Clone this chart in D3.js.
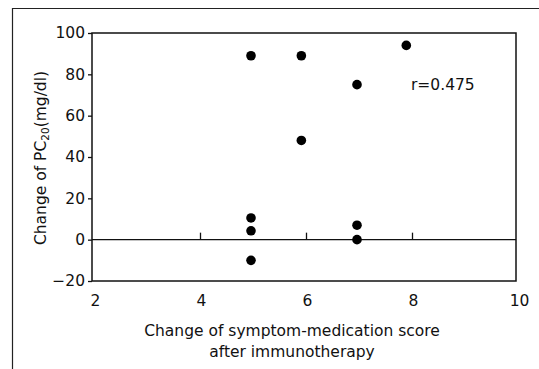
<!DOCTYPE html>
<html><head><meta charset="utf-8">
<script src="https://cdn.jsdelivr.net/npm/d3@7"></script>
<style>body{margin:0;background:#fff}svg{display:block}</style>
</head><body>
<svg id="c" width="539" height="369"></svg>
<script>
const scoreChange = [5, 5.95, 7.93, 7, 5.95, 5, 5, 5, 7, 7];
const pc20Change  = [89, 89, 94, 75, 48, 10.5, 4.3, -10, 7, 0];
const xTicks = [2, 4, 6, 8, 10];
const yTicks = [100, 80, 60, 40, 20, 0, -20];
const xTitle = ["Change of symptom-medication score", "after immunotherapy"];
const yTitle = "Change of PC";
const annotation = "r=0.475";

const svg = d3.select("#c");
const font = "DejaVu Sans";
const fs = 15.5;
const ink = "#111";
const L = 92, R = 516, T = 33, B = 281;
const x = d3.scaleLinear().domain([2, 10]).range([L, R]);
const y = d3.scaleLinear().domain([-20, 100]).range([B, T]);

// outer frame
svg.append("path").attr("d", "M12.5,369 V8.5 H539").attr("fill", "none")
  .attr("stroke", "#222").attr("stroke-width", 1.2);

// plot frame
svg.append("rect").attr("x", L).attr("y", T).attr("width", R - L).attr("height", B - T)
  .attr("fill", "none").attr("stroke", ink).attr("stroke-width", 1.5);

// y axis
const yAxis = d3.axisLeft(y).tickValues(yTicks).tickSize(4).tickPadding(3)
  .tickFormat(d => d < 0 ? "\u2212" + Math.abs(d) : d);
const gy = svg.append("g").attr("transform", `translate(${L},0)`).call(yAxis);
gy.select(".domain").remove();
gy.selectAll("line").attr("stroke", ink).attr("stroke-width", 1.3);
gy.selectAll("text").attr("font-family", font).attr("font-size", fs).attr("fill", ink);

// x tick labels (bottom, no tick marks)
const xAxis = d3.axisBottom(x).tickValues(xTicks).tickSize(0).tickPadding(14);
const gx = svg.append("g").attr("transform", `translate(3,${B})`).call(xAxis);
gx.select(".domain").remove();
gx.selectAll("text").attr("font-family", font).attr("font-size", fs).attr("fill", ink);

// zero line with upward ticks
svg.append("line").attr("x1", L).attr("x2", R).attr("y1", y(0)).attr("y2", y(0))
  .attr("stroke", ink).attr("stroke-width", 1.3);
const zAxis = d3.axisTop(x).tickValues([4, 6, 8]).tickSize(7).tickFormat("");
const gz = svg.append("g").attr("transform", `translate(2,${y(0)})`).call(zAxis);
gz.select(".domain").remove();
gz.selectAll("line").attr("stroke", ink).attr("stroke-width", 1.3);

// points
svg.append("g").selectAll("circle").data(scoreChange.map((v, i) => [v, pc20Change[i]]))
  .join("circle").attr("cx", d => x(d[0])).attr("cy", d => y(d[1])).attr("r", 4.8)
  .attr("fill", "#000");

// annotation
svg.append("text").attr("x", 411).attr("y", 90).attr("font-family", font)
  .attr("font-size", fs).attr("fill", ink).text(annotation);

// x title
svg.append("g").selectAll("text").data(xTitle).join("text")
  .attr("x", 292).attr("y", (d, i) => 336 + i * 21).attr("text-anchor", "middle")
  .attr("font-family", font).attr("font-size", fs).attr("fill", ink).text(d => d);

// y title
const yt = svg.append("text").attr("transform", `translate(46,158) rotate(-90)`)
  .attr("text-anchor", "middle").attr("font-family", font).attr("font-size", fs).attr("fill", ink);
yt.append("tspan").text(yTitle);
yt.append("tspan").attr("font-size", 10.5).attr("dy", 3).text("20");
yt.append("tspan").attr("dy", -3).text("(mg/dl)");
</script>
</body></html>
